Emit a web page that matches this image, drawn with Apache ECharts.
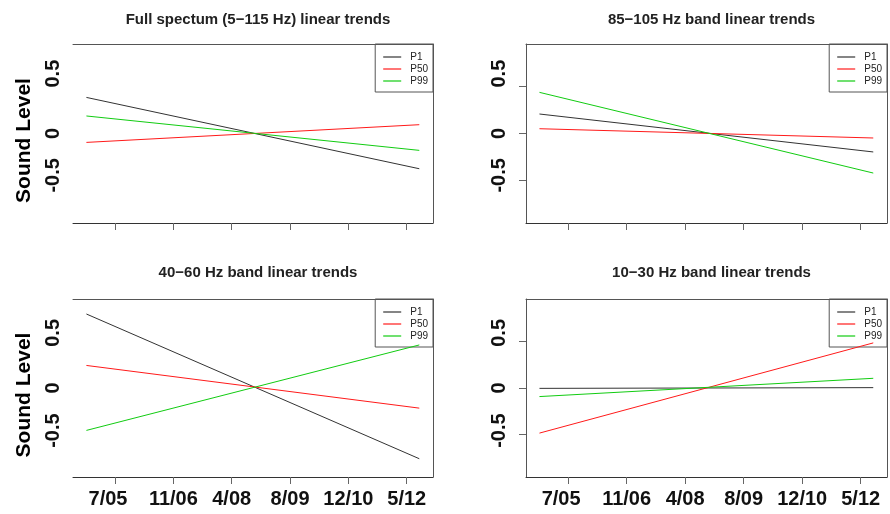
<!DOCTYPE html>
<html>
<head>
<meta charset="utf-8">
<script src="https://cdn.jsdelivr.net/npm/echarts@6/dist/echarts.min.js"></script>
<style>
html,body{margin:0;padding:0;background:#fff;}
#chart{width:890px;height:514px;}
</style>
</head>
<body>
<div id="chart"></div>
<script>
// ---- data ----
const xTickLabels = ['7/05', '11/06', '4/08', '8/09', '12/10', '5/12'];
const xTickPos = [0, 1, 2, 3, 4, 5];          // tick positions in tick-index units
const trendX = [-0.49, 5.215];                 // start / end of each fitted trend (tick-index units)
const yTicks = [-0.5, 0, 0.5];
const seriesNames = ['P1', 'P50', 'P99'];
const panelTitles = [
  'Full spectum (5\u2212115 Hz) linear trends',
  '85\u2212105 Hz band linear trends',
  '40\u221260 Hz band linear trends',
  '10\u221230 Hz band linear trends'
];
const fullP1  = [0.385, -0.376];
const fullP50 = [-0.095, 0.094];
const fullP99 = [0.187, -0.180];
const b85P1  = [0.208, -0.197];
const b85P50 = [0.051, -0.048];
const b85P99 = [0.439, -0.422];
const b40P1  = [0.794, -0.759];
const b40P50 = [0.242, -0.216];
const b40P99 = [-0.455, 0.462];
const b10P1  = [-0.004, 0.004];
const b10P50 = [-0.484, 0.484];
const b10P99 = [-0.092, 0.104];
const panelData = [
  [fullP1, fullP50, fullP99],
  [b85P1, b85P50, b85P99],
  [b40P1, b40P50, b40P99],
  [b10P1, b10P50, b10P99]
];

// ---- layout / style ----
const FONT = '"Liberation Sans", Arial, Helvetica, sans-serif';
const colors = ['#333333', '#ff1a1a', '#11cc11'];
const W = 890;
const layout = [
  {left: 73,  top: 44,  width: 360, height: 179, titleTop: 7,   leftCol: true,  bottomRow: false, shiftP: 13,  shiftN: 5},
  {left: 526, top: 44,  width: 361, height: 179, titleTop: 7,   leftCol: false, bottomRow: false, shiftP: 13,  shiftN: 5},
  {left: 73,  top: 299, width: 360, height: 178, titleTop: 260, leftCol: true,  bottomRow: true,  shiftP: 8.5, shiftN: 4},
  {left: 526, top: 299, width: 361, height: 178, titleTop: 260, leftCol: false, bottomRow: true,  shiftP: 8.5, shiftN: 4}
];

const grid = [], xAxis = [], yAxis = [], series = [], title = [], legend = [];
layout.forEach((p, i) => {
  grid.push({left: p.left, top: p.top, width: p.width, height: p.height, containLabel: false});
  title.push({
    text: panelTitles[i], left: p.left + p.width / 2, top: p.titleTop, textAlign: 'center',
    textStyle: {fontFamily: FONT, fontSize: 15, fontWeight: 'bold', color: '#222'}
  });
  // bottom x axis
  xAxis.push({
    type: 'value', gridIndex: i, position: 'bottom', min: -0.72, max: 5.45,
    axisLine: {show: true, onZero: false, lineStyle: {color: '#333', width: 1}},
    axisTick: {show: true, customValues: xTickPos, length: 7, lineStyle: {color: '#666'}},
    axisLabel: {
      show: p.bottomRow, customValues: xTickPos, margin: 12,
      fontFamily: FONT, fontSize: 20, fontWeight: 'bold', color: '#111',
      formatter: v => {
        const idx = Math.round(v);
        const s = xTickLabels[idx];
        return idx === 0 ? '{s|' + s + '}' : s;
      },
      rich: {s: {padding: [0, 14, 0, 0]}}
    },
    splitLine: {show: false}
  });
  // top frame
  xAxis.push({
    type: 'value', gridIndex: i, position: 'top', min: -0.72, max: 5.45,
    axisLine: {show: true, onZero: false, lineStyle: {color: '#555', width: 1}},
    axisTick: {show: false}, axisLabel: {show: false}, splitLine: {show: false}
  });
  // left y axis
  yAxis.push({
    type: 'value', gridIndex: i, position: 'left', min: -0.955, max: 0.955,
    axisLine: {show: !p.leftCol, onZero: false, lineStyle: {color: '#555', width: 1}},
    axisTick: {show: !p.leftCol, customValues: yTicks, length: 7, lineStyle: {color: '#666'}},
    axisLabel: {
      customValues: yTicks, rotate: 90, margin: p.leftCol ? 10 : 17,
      fontFamily: FONT, fontSize: 20, fontWeight: 'bold', color: '#111',
      formatter: v => {
        if (Math.abs(v) < 1e-9) return '0';
        return (v > 0 ? '{p|' : '{n|') + String(v) + '}';
      },
      rich: {p: {padding: [0, 0, 0, 2 * p.shiftP]}, n: {padding: [0, 0, 0, 2 * p.shiftN]}}
    },
    splitLine: {show: false},
    name: p.leftCol ? 'Sound Level' : '',
    nameLocation: 'middle', nameRotate: 90, nameGap: 38,
    nameTextStyle: {fontFamily: FONT, fontSize: 21, fontWeight: 'bold', color: '#000', padding: [0, 14, 0, 0]}
  });
  // right frame
  yAxis.push({
    type: 'value', gridIndex: i, position: 'right', min: -0.955, max: 0.955,
    axisLine: {show: true, onZero: false, lineStyle: {color: '#555', width: 1}},
    axisTick: {show: false}, axisLabel: {show: false}, splitLine: {show: false}
  });
  seriesNames.forEach((name, k) => {
    const vals = panelData[i][k];
    series.push({
      name: name, type: 'line', xAxisIndex: 2 * i, yAxisIndex: 2 * i,
      data: [[trendX[0], vals[0]], [trendX[1], vals[1]]],
      symbol: 'none', showSymbol: false, silent: true, z: 5,
      lineStyle: {color: colors[k], width: 1},
      itemStyle: {color: colors[k]}
    });
  });
  legend.push({
    orient: 'vertical', right: W - (p.left + p.width), top: p.top, z: 1,
    data: seriesNames, icon: 'rect', itemWidth: 18, itemHeight: 2, itemGap: 0,
    padding: [7, 5, 5, 8], borderColor: '#555', borderWidth: 1,
    itemStyle: {opacity: 0.6}, selectedMode: false,
    textStyle: {fontFamily: FONT, fontSize: 10, lineHeight: 12, color: '#222', padding: [0, 0, 0, 4]}
  });
});

const chart = echarts.init(document.getElementById('chart'), null, {renderer: 'canvas'});
chart.setOption({
  backgroundColor: '#fff',
  animation: false,
  title, legend, grid, xAxis, yAxis, series
});
</script>
</body>
</html>
